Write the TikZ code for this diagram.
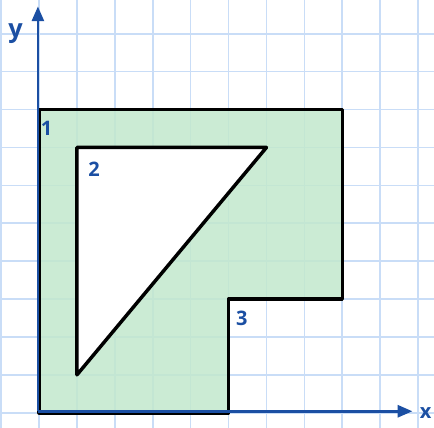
\documentclass[tikz,border=0pt]{standalone}
\usepackage{fontspec}
\setmainfont{Open Sans}
\usetikzlibrary{arrows.meta}
\definecolor{gridblue}{HTML}{C9DDF7}
\definecolor{fillgreen}{HTML}{C2E8CD}
\definecolor{axisblue}{HTML}{1B4FA3}
\tikzset{
  gridline/.style={draw=gridblue, line width=1.2pt},
  axisline/.style={draw=axisblue, line width=1.9pt, -{Triangle[length=11pt,width=9pt]}},
  outline/.style={draw=black, line width=2.6pt, line join=round},
  lbl/.style={text=axisblue, font=\bfseries\fontsize{15}{17}\selectfont, inner sep=0pt},
}
\begin{document}
\begin{tikzpicture}[x=1cm,y=1cm]
\useasboundingbox (-1.03,-0.4) rectangle (10.42,10.89);
\fill[white] (-1.03,-0.4) rectangle (10.42,10.89);
% grid
\foreach \i in {-1,...,10} \draw[gridline] (\i,-0.4) -- (\i,10.89);
\foreach \j in {0,...,10} \draw[gridline] (-1.03,\j) -- (10.42,\j);
% shape
\fill[fillgreen, opacity=0.85] (0,0) -- (0,8) -- (8,8) -- (8,3) -- (5,3) -- (5,0) -- cycle;
\fill[white] (1,7) -- (6,7) -- (1,1) -- cycle;
\draw[outline] (0,0) -- (0,8) -- (8,8) -- (8,3) -- (5,3) -- (5,0) -- cycle;
\draw[outline] (1,7) -- (6,7) -- (1,1) -- cycle;
% axes
\coordinate (O) at (-0.03,0.04);
\coordinate (xend) at (9.85,0.04);
\coordinate (yend) at (-0.03,10.72);
\draw[axisline] (O) -- (xend);
\draw[axisline] (O) -- (yend);
\node[lbl, font=\bfseries\fontsize{19}{21}\selectfont] (ylab) at (-0.62,10.0) {y};
\node[lbl] (xlab) at (10.2,-0.02) {x};
\node[lbl] (p1) at (0.2,7.5) {1};
\node[lbl] (p2) at (1.45,6.42) {2};
\node[lbl] (p3) at (5.35,2.5) {3};
\end{tikzpicture}
\end{document}
